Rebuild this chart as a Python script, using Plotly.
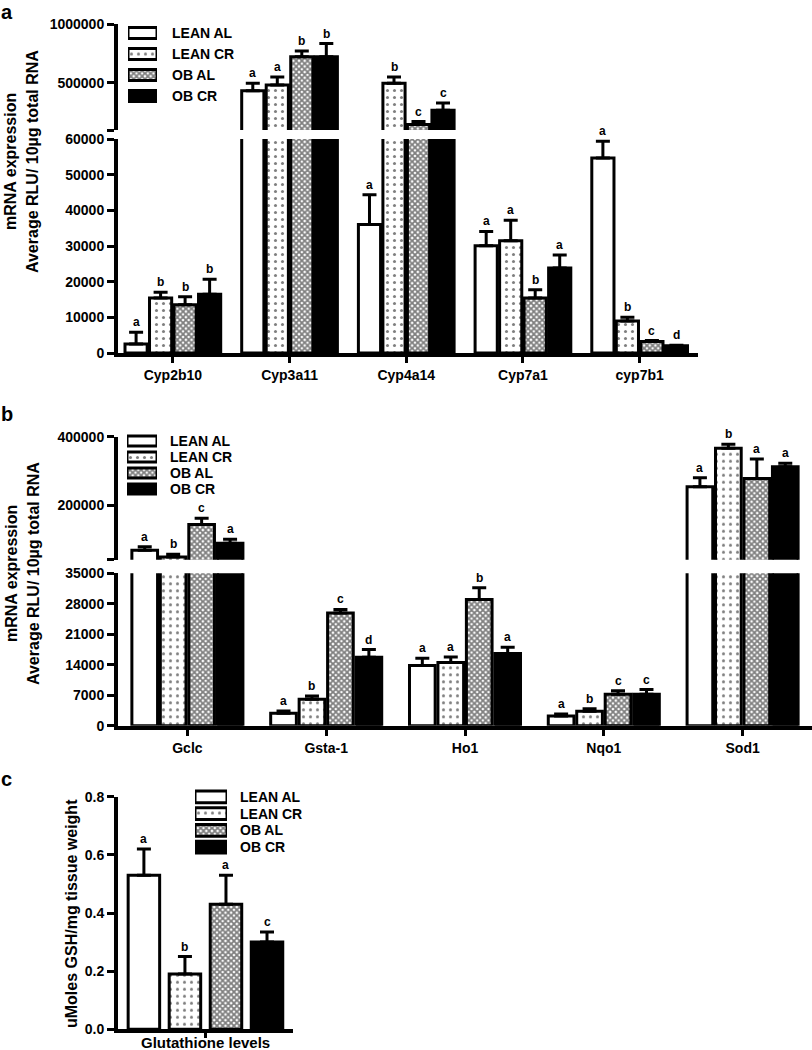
import plotly.graph_objects as go

W, H = 812, 1050
FONT = "Liberation Sans"

groups = ["LEAN AL", "LEAN CR", "OB AL", "OB CR"]

# ---- panel a : cytochrome P450 genes
genes_a = ["Cyp2b10", "Cyp3a11", "Cyp4a14", "Cyp7a1", "cyp7b1"]
a_lean_al = [2500, 434000, 36000, 30100, 54700]
a_lean_cr = [15400, 483000, 497000, 31500, 9000]
a_ob_al = [13500, 721000, 146000, 15400, 3200]
a_ob_cr = [16500, 721000, 267000, 23800, 2000]
a_lean_al_err = [3300, 63000, 8400, 4000, 4700]
a_lean_cr_err = [1600, 66000, 52000, 5700, 1000]
a_ob_al_err = [2300, 49000, 26000, 2300, 300]
a_ob_cr_err = [4200, 113000, 63000, 3700, 200]
a_lean_al_sig = ["a", "a", "a", "a", "a"]
a_lean_cr_sig = ["b", "a", "b", "a", "b"]
a_ob_al_sig = ["b", "b", "c", "b", "c"]
a_ob_cr_sig = ["b", "b", "c", "a", "d"]

# ---- panel b : antioxidant genes
genes_b = ["Gclc", "Gsta-1", "Ho1", "Nqo1", "Sod1"]
b_lean_al = [68000, 2850, 13800, 2200, 253600]
b_lean_cr = [48000, 6100, 14500, 3300, 366000]
b_ob_al = [143000, 25900, 29000, 7200, 278000]
b_ob_cr = [88000, 15700, 16600, 7200, 312000]
b_lean_al_err = [10000, 550, 1700, 500, 26000]
b_lean_cr_err = [8000, 700, 1300, 600, 12000]
b_ob_al_err = [18000, 800, 2700, 800, 57000]
b_ob_cr_err = [12000, 1800, 1400, 1100, 10000]
b_lean_al_sig = ["a", "a", "a", "a", "a"]
b_lean_cr_sig = ["b", "b", "a", "b", "b"]
b_ob_al_sig = ["c", "c", "b", "c", "a"]
b_ob_cr_sig = ["a", "d", "a", "c", "a"]

# ---- panel c : glutathione
cat_c = ["Glutathione levels"]
c_mean = [0.53, 0.19, 0.43, 0.30]
c_err = [0.09, 0.06, 0.10, 0.035]
c_sig = ["a", "b", "a", "c"]

a_ticks_lo = [0, 10000, 20000, 30000, 40000, 50000, 60000]
a_ticks_hi = [100000, 500000, 1000000]
b_ticks_lo = [0, 7000, 14000, 21000, 28000, 35000]
b_ticks_hi = [40000, 200000, 400000]
c_ticks = [0.0, 0.2, 0.4, 0.6, 0.8]

styles = {
    "LEAN AL": dict(color="white"),
    "LEAN CR": dict(color="white", pattern=dict(shape=".", fgcolor="black", bgcolor="white",
                                                 size=7, solidity=0.15)),
    "OB AL": dict(color="white", pattern=dict(shape="x", fgcolor="black", bgcolor="white",
                                               size=4, solidity=0.7)),
    "OB CR": dict(color="black"),
}


def py(p):
    return 1 - p / H


def pxx(p):
    return p / W


fig = go.Figure()
bold = dict(family=FONT, size=14, color="black", weight="bold")
small_bold = dict(family=FONT, size=12, color="black", weight="bold")


def bar_panel(cats, means, errs, sigs, segs, offsets, width):
    # segs: (xaxis, yaxis, lo, hi) for each piece of the broken axis
    for i, g in enumerate(groups):
        for xa, ya, lo, hi in segs:
            fig.add_trace(go.Bar(
                x=cats, y=means[i], width=width, offset=offsets[i],
                marker=dict(line=dict(color="black", width=3), **styles[g]),
                error_y=dict(type="data", symmetric=False, array=errs[i],
                             arrayminus=[0] * len(cats), color="black", thickness=3, width=7),
                xaxis=xa, yaxis=ya, showlegend=False, name=g))
        for j in range(len(cats)):
            top = means[i][j] + errs[i][j]
            xa, ya = segs[0][0], segs[0][1]
            for sxa, sya, lo, hi in segs:
                if lo <= top <= hi * 1.02:
                    xa, ya = sxa, sya
            fig.add_annotation(x=j + offsets[i] + width / 2, y=top, xref=xa, yref=ya,
                               text=sigs[i][j], showarrow=False, xanchor="center",
                               yanchor="bottom", yshift=1, font=small_bold)


# panel a
off_a = [-0.41 + k * 0.21 for k in range(4)]
bar_panel(genes_a, [a_lean_al, a_lean_cr, a_ob_al, a_ob_cr],
          [a_lean_al_err, a_lean_cr_err, a_ob_al_err, a_ob_cr_err],
          [a_lean_al_sig, a_lean_cr_sig, a_ob_al_sig, a_ob_cr_sig],
          [("x", "y", 0, 60000), ("x2", "y2", 100000, 1000000)], off_a, 0.19)

# panel b
off_b = [-0.40 + k * 0.205 for k in range(4)]
bar_panel(genes_b, [b_lean_al, b_lean_cr, b_ob_al, b_ob_cr],
          [b_lean_al_err, b_lean_cr_err, b_ob_al_err, b_ob_cr_err],
          [b_lean_al_sig, b_lean_cr_sig, b_ob_al_sig, b_ob_cr_sig],
          [("x3", "y3", 0, 35000), ("x4", "y4", 40000, 400000)], off_b, 0.185)

# panel c
off_c = [-0.442 + k * 0.2345 for k in range(4)]
for i, g in enumerate(groups):
    fig.add_trace(go.Bar(
        x=cat_c, y=[c_mean[i]], width=0.18, offset=off_c[i],
        marker=dict(line=dict(color="black", width=3), **styles[g]),
        error_y=dict(type="data", symmetric=False, array=[c_err[i]], arrayminus=[0],
                     color="black", thickness=3, width=7),
        xaxis="x5", yaxis="y5", showlegend=False, name=g))
    fig.add_annotation(x=off_c[i] + 0.09, y=c_mean[i] + c_err[i], xref="x5", yref="y5",
                       text=c_sig[i], showarrow=False, xanchor="center", yanchor="bottom",
                       yshift=1, font=small_bold)

# legends drawn as small swatch subplots
legend_boxes = [("x6", "y6", 128, 157, 22.5, 106.5, 0.52, 170),
                ("x7", "y7", 127, 157, 433, 497, 0.62, 168),
                ("x8", "y8", 195, 227, 788.5, 855.5, 0.7, 238)]
for xa, ya, x0, x1, y0, y1, th, tx in legend_boxes:
    for g in groups:
        fig.add_trace(go.Bar(
            x=[1], y=[g], orientation="h", width=th,
            marker=dict(line=dict(color="black", width=3), **styles[g]),
            xaxis=xa, yaxis=ya, showlegend=False, hoverinfo="skip"))
        fig.add_annotation(x=pxx(tx), y=g, xref="paper", yref=ya, text=g, showarrow=False,
                           xanchor="left", yanchor="middle", font=bold)

axis_line = dict(showline=True, linecolor="black", linewidth=4, ticks="outside",
                 tickcolor="black", tickwidth=3, showgrid=False, zeroline=False,
                 tickfont=bold, automargin=False)
hidden = dict(visible=False, automargin=False)

layout = dict(
    width=W, height=H, margin=dict(l=0, r=0, t=0, b=0, pad=0), plot_bgcolor="white",
    paper_bgcolor="white", barmode="overlay", font=dict(family=FONT, color="black"),
    # panel a
    xaxis=dict(domain=[pxx(118), pxx(698)], anchor="y", range=[-0.47, 4.5], ticklen=6,
               **axis_line),
    yaxis=dict(domain=[py(353), py(139)], anchor="x", range=[0, 60000], tickvals=a_ticks_lo,
               tickformat="d", ticklen=7, **axis_line),
    xaxis2=dict(domain=[pxx(118), pxx(698)], anchor="y2", matches="x", **hidden),
    yaxis2=dict(domain=[py(130), py(24)], anchor="x2", range=[100000, 1000000],
                tickvals=a_ticks_hi, ticktext=["", "500000", "1000000"], ticklen=7, **axis_line),
    # panel b
    xaxis3=dict(domain=[pxx(118), 1.0], anchor="y3", range=[-0.5, 4.5], ticklen=6, **axis_line),
    yaxis3=dict(domain=[py(725.7), py(573.3)], anchor="x3", range=[0, 35000],
                tickvals=b_ticks_lo, tickformat="d", ticklen=7, **axis_line),
    xaxis4=dict(domain=[pxx(118), 1.0], anchor="y4", matches="x3", **hidden),
    yaxis4=dict(domain=[py(559.7), py(436.7)], anchor="x4", range=[40000, 400000],
                tickvals=b_ticks_hi, ticktext=["", "200000", "400000"], ticklen=7, **axis_line),
    # panel c
    xaxis5=dict(domain=[pxx(118), pxx(293)], anchor="y5", range=[-0.5, 0.5], ticklen=5,
                showticklabels=False, **axis_line),
    yaxis5=dict(domain=[py(1029.3), py(796.7)], anchor="x5", range=[0, 0.8], tickvals=c_ticks,
                tickformat=".1f", ticklen=7, **axis_line),
)
for xa, ya, x0, x1, y0, y1, th, tx in legend_boxes:
    n = xa[1:]
    layout["xaxis" + n] = dict(domain=[pxx(x0), pxx(x1)], anchor=ya, range=[0, 1], **hidden)
    layout["yaxis" + n] = dict(domain=[py(y1), py(y0)], anchor=xa, range=[3.5, -0.5],
                               type="category", **hidden)
fig.update_layout(**layout)

# category label of panel c, kept inside the page
fig.add_annotation(x=0, y=py(1042), xref="x5", yref="paper", text=cat_c[0], showarrow=False,
                   xanchor="center", yanchor="middle",
                   font=dict(family=FONT, size=15, color="black", weight="bold"))

# axis titles and panel letters
title_font = dict(family=FONT, size=16, color="black", weight="bold")
for cy in (162, 574):
    fig.add_annotation(x=pxx(11), y=py(cy), xref="paper", yref="paper", text="mRNA expression",
                       textangle=-90, showarrow=False, xanchor="center", yanchor="middle",
                       font=title_font)
    fig.add_annotation(x=pxx(33), y=py(cy), xref="paper", yref="paper",
                       text="Average RLU/ 10µg total RNA", textangle=-90, showarrow=False,
                       xanchor="center", yanchor="middle", font=title_font)
fig.add_annotation(x=pxx(71), y=py(914), xref="paper", yref="paper",
                   text="uMoles GSH/mg tissue weight", textangle=-90, showarrow=False,
                   xanchor="center", yanchor="middle", font=title_font)
for letter, lx, ly in (("a", 7, 12), ("b", 7, 414), ("c", 6, 779)):
    fig.add_annotation(x=pxx(lx), y=py(ly), xref="paper", yref="paper", text=letter,
                       showarrow=False, xanchor="center", yanchor="middle",
                       font=dict(family=FONT, size=20, color="black", weight="bold"))

config = {"displayModeBar": False}
# the page itself adds an 8px body margin; drop it so the figure fills the window
fig.write_html("out.html", config=config,
               post_script="document.body.style.margin = '0px';")
